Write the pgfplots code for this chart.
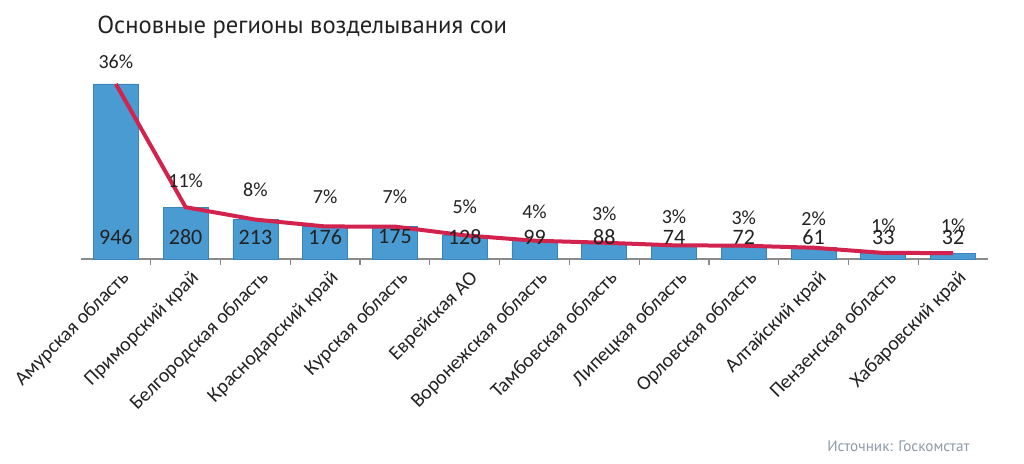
\documentclass[border=0pt]{standalone}
\usepackage{fontspec}
\setmainfont{Carlito}
\newfontfamily\ptsans{PT Sans}
\usepackage{pgfplots}
\pgfplotsset{compat=1.18}
\usepackage{pgfplotstable}
\definecolor{barblue}{HTML}{4A9BD2}
\definecolor{baredge}{HTML}{3A86BC}
\definecolor{linered}{HTML}{D2234F}
\definecolor{txt}{HTML}{222222}
\definecolor{src}{HTML}{8C99A6}
\definecolor{axgray}{HTML}{8A8A8A}
\pgfplotstableread{
x v
0 946
1 280
2 213
3 176
4 175
5 128
6 99
7 88
8 74
9 72
10 61
11 33
12 32
}\bars
\pgfplotstableread{
x y lab
0 119 946
1 119 280
2 119 213
3 119 176
4 119 175
5 119 128
6 119 99
7 119 88
8 119 74
9 119 72
10 119 61
11 119 33
12 119 32
}\vals
\pgfplotstableread{
x y lab
0 1065 36\%
1 421 11\%
2 373 8\%
3 335 7\%
4 335 7\%
5 281 5\%
6 254 4\%
7 243 3\%
8 227 3\%
9 222 3\%
10 216 2\%
11 178 1\%
12 178 1\%
}\pcts
\begin{document}
\begin{tikzpicture}
\path[use as bounding box] (0,0) rectangle (512pt,231.5pt);
\node[anchor=base west, font=\ptsans\fontsize{12.3pt}{14pt}\selectfont, text=txt, inner sep=0pt] at (48.5pt,215pt) {Основные регионы возделывания сои};
\node[anchor=east, font=\ptsans\fontsize{7.6pt}{9pt}\selectfont, text=src, inner sep=0pt] at (485pt,8.5pt) {Источник: Госкомстат};
\begin{axis}[
  at={(40.5pt,102pt)}, anchor=south west,
  scale only axis, width=453.5pt, height=101.75pt,
  xmin=-0.5, xmax=12.5, ymin=0, ymax=1100,
  axis y line=none, axis x line*=bottom,
  axis line style={axgray, line width=0.6pt, -},
  xtick={0,...,12},
  xticklabels={Амурская область, Приморский край, Белгородская область, Краснодарский край, Курская область, Еврейская АО, Воронежская область, Тамбовская область, Липецкая область, Орловская область, Алтайский край, Пензенская область, Хабаровский край},
  major tick length=0pt,
  minor xtick={0.5,1.5,...,11.5},
  minor tick length=3pt,
  tick align=outside,
  minor tick style={axgray, line width=0.6pt},
  xticklabel style={rotate=45, anchor=north east, font=\fontsize{10pt}{11pt}\selectfont, text=txt, inner sep=1pt, yshift=-4pt, xshift=-1pt},
  clip=false,
]
\addplot[ybar, bar width=22.5pt, fill=barblue, draw=baredge, line width=0.4pt] table[x=x,y=v] {\bars};
\addplot[linered, line width=2pt, mark=none] table[x=x,y=v] {\bars};
\addplot[only marks, mark=none, nodes near coords, point meta=explicit symbolic,
  nodes near coords style={anchor=center, font=\fontsize{11pt}{12pt}\selectfont, text=txt, inner sep=0pt}] table[x=x,y=y,meta=lab] {\vals};
\addplot[only marks, mark=none, nodes near coords, point meta=explicit symbolic,
  nodes near coords style={anchor=center, font=\fontsize{10pt}{12pt}\selectfont, text=txt, inner sep=0pt}] table[x=x,y=y,meta=lab] {\pcts};
\end{axis}
\end{tikzpicture}
\end{document}
